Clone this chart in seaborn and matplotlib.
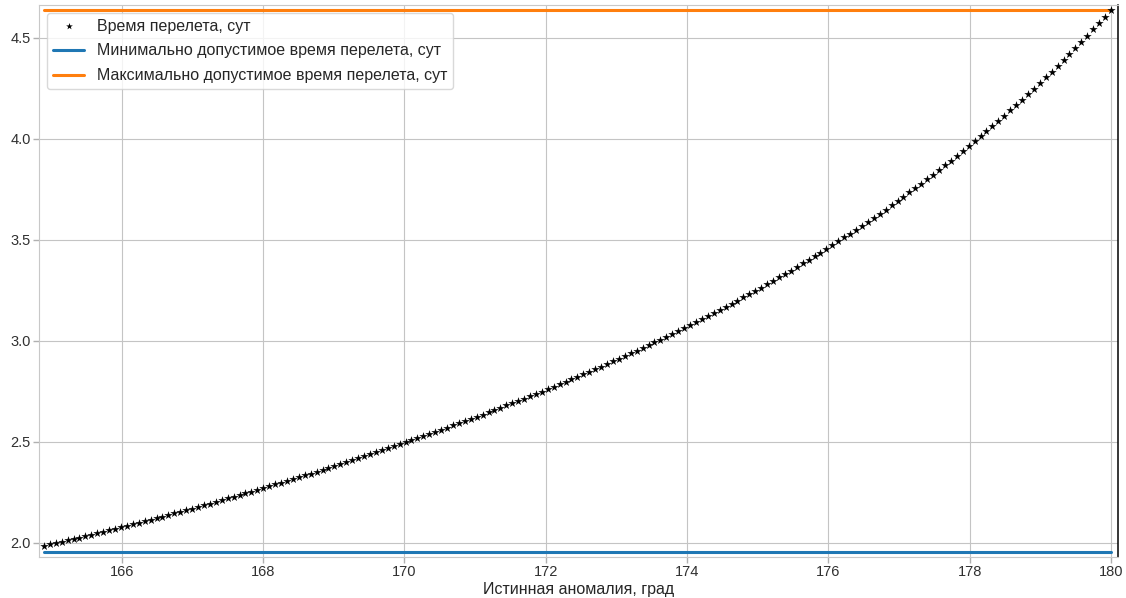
import numpy as np
import pandas as pd
import matplotlib
matplotlib.use('Agg')
import matplotlib.pyplot as plt
import seaborn as sns

# истинная аномалия, град (шаг 1/12 град)
anomaly = np.linspace(164.9, 180.0, 181)

# время перелета, сут
flight_time = [
    1.985, 1.991, 1.998, 2.005, 2.011, 2.018, 2.025, 2.032, 2.039, 2.046, 2.053, 2.061, 2.068, 2.075, 2.083,
    2.090, 2.098, 2.106, 2.113, 2.121, 2.129, 2.137, 2.145, 2.153, 2.161, 2.169, 2.177, 2.185, 2.193, 2.202,
    2.210, 2.219, 2.227, 2.236, 2.244, 2.253, 2.262, 2.270, 2.279, 2.288, 2.297, 2.306, 2.315, 2.324, 2.333,
    2.342, 2.351, 2.361, 2.370, 2.379, 2.389, 2.398, 2.408, 2.418, 2.427, 2.437, 2.447, 2.457, 2.467, 2.477,
    2.487, 2.497, 2.507, 2.517, 2.527, 2.538, 2.548, 2.559, 2.569, 2.580, 2.590, 2.601, 2.612, 2.623, 2.634,
    2.645, 2.656, 2.667, 2.679, 2.690, 2.701, 2.713, 2.725, 2.736, 2.748, 2.760, 2.772, 2.784, 2.796, 2.808,
    2.821, 2.833, 2.846, 2.858, 2.871, 2.884, 2.897, 2.910, 2.923, 2.937, 2.950, 2.963, 2.977, 2.991, 3.005,
    3.019, 3.033, 3.047, 3.062, 3.076, 3.091, 3.106, 3.121, 3.136, 3.151, 3.167, 3.182, 3.198, 3.214, 3.230,
    3.246, 3.262, 3.279, 3.296, 3.313, 3.330, 3.347, 3.364, 3.382, 3.400, 3.418, 3.436, 3.454, 3.473, 3.492,
    3.511, 3.530, 3.549, 3.569, 3.589, 3.609, 3.629, 3.649, 3.670, 3.691, 3.712, 3.734, 3.756, 3.778, 3.800,
    3.822, 3.845, 3.868, 3.891, 3.915, 3.939, 3.963, 3.987, 4.012, 4.037, 4.062, 4.088, 4.114, 4.140, 4.166,
    4.193, 4.220, 4.248, 4.276, 4.304, 4.332, 4.361, 4.390, 4.420, 4.449, 4.480, 4.510, 4.541, 4.573, 4.604,
    4.636,
]

t_min = 1.952
t_max = 4.638

labels = ['Время перелета, сут',
          'Минимально допустимое время перелета, сут',
          'Максимально допустимое время перелета, сут']

df = pd.DataFrame({'anomaly': anomaly, 'time': flight_time})
df['tmin'] = t_min
df['tmax'] = t_max

sns.set_style('whitegrid', {'grid.color': '#c4c4c4', 'axes.edgecolor': '#c8c8c8',
                            'xtick.bottom': True, 'ytick.left': True})
plt.rcParams['font.family'] = ['Liberation Sans', 'DejaVu Sans']
plt.rcParams['xtick.color'] = '#b0b0b0'
plt.rcParams['ytick.color'] = '#b0b0b0'
plt.rcParams['xtick.labelcolor'] = '#303030'
plt.rcParams['ytick.labelcolor'] = '#303030'

fig = plt.figure(figsize=(11.26, 5.98), dpi=100)
ax = fig.add_axes([0.0346, 0.0686, 0.9583, 0.9231])

sns.scatterplot(data=df, x='anomaly', y='time', marker='*', color='black', s=40,
                linewidth=0, label=labels[0], ax=ax, zorder=3)
sns.lineplot(data=df, x='anomaly', y='tmin', color='#1f77b4', linewidth=2.2, label=labels[1], ax=ax)
sns.lineplot(data=df, x='anomaly', y='tmax', color='#ff7f0e', linewidth=2.2, label=labels[2], ax=ax)

ax.set_xlim(164.83, 180.1)
ax.set_ylim(1.929, 4.662)
ax.set_xticks(np.arange(166, 181, 2))
ax.set_yticks(np.arange(2.0, 4.51, 0.5))
ax.tick_params(axis='both', labelsize=10.5, length=4, width=1, pad=2)
ax.set_xlabel('Истинная аномалия, град', fontsize=11.5, color='#262626', labelpad=2)
ax.set_ylabel('')
ax.spines['right'].set_color('black')
ax.spines['right'].set_linewidth(1.1)

leg = ax.legend(loc='upper left', fontsize=11.5, frameon=True, borderaxespad=0.5,
                handlelength=2.0, labelspacing=0.62, borderpad=0.35, markerscale=0.8)
leg.get_frame().set_edgecolor('#d0d0d0')

fig.savefig('out.png', dpi=100)
